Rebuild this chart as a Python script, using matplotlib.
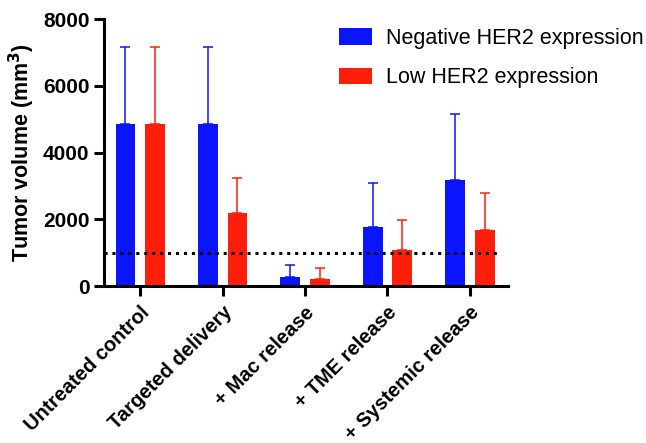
import matplotlib.pyplot as plt
import numpy as np

plt.rcParams['font.family'] = ['Liberation Sans', 'DejaVu Sans']

groups = ['Untreated control', 'Targeted delivery', '+ Mac release', '+ TME release', '+ Systemic release']
neg_mean = [4870, 4870, 260, 1770, 3180]
neg_err = [2280, 2280, 360, 1310, 1970]
low_mean = [4870, 2180, 200, 1080, 1690]
low_err = [2280, 1070, 340, 890, 1110]
threshold = 1000

blue = '#0a14ff'
red = '#ff1e0a'

fig = plt.figure(figsize=(6.46, 4.43), dpi=100)
ax = fig.add_axes([0.161, 0.354, 0.625, 0.603])

x = np.arange(len(groups))
w = 0.24
off = 0.18
ax.bar(x - off, neg_mean, w, color=blue, label='Negative HER2 expression',
       yerr=[np.zeros(len(groups)), neg_err], error_kw=dict(ecolor=blue, elinewidth=1.1, capsize=3.6, capthick=1.1))
ax.bar(x + off, low_mean, w, color=red, label='Low HER2 expression',
       yerr=[np.zeros(len(groups)), low_err], error_kw=dict(ecolor=red, elinewidth=1.1, capsize=3.6, capthick=1.1))

ax.axhline(threshold, xmin=0, xmax=0.98, color='black', linestyle=(0, (1, 1.6)), linewidth=2.2, zorder=5)

ax.set_xlim(-0.44, 4.46)
ax.set_ylim(0, 8000)
ax.set_yticks([0, 2000, 4000, 6000, 8000])
ax.set_xticks(x)
ax.set_xticklabels(groups, rotation=45, ha='right', rotation_mode='anchor', fontsize=14.5, fontweight='bold')
for lab in ax.get_yticklabels():
    lab.set_fontweight('bold')
ax.tick_params(axis='y', labelsize=15, width=2.2, length=7)
ax.tick_params(axis='x', width=2.2, length=7, pad=5)
ax.set_ylabel('Tumor volume (mm$^\\mathbf{3}$)', fontsize=15.5, fontweight='bold')

for s in ['top', 'right']:
    ax.spines[s].set_visible(False)
for s in ['left', 'bottom']:
    ax.spines[s].set_linewidth(2.2)

ax.legend(loc='upper left', bbox_to_anchor=(0.56, 0.998), frameon=False, fontsize=15.5,
          handlelength=1.55, handleheight=0.8, handletextpad=0.65, labelspacing=0.85,
          borderaxespad=0, bbox_transform=ax.transAxes)

fig.savefig('out.png', dpi=100)
